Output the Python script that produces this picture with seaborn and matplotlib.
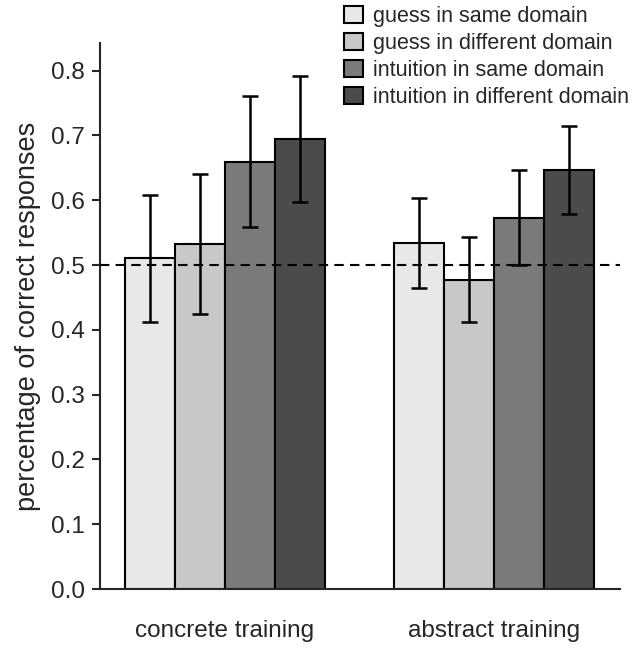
import matplotlib
matplotlib.use("Agg")
import matplotlib.pyplot as plt
import seaborn as sns
import pandas as pd
import numpy as np
from matplotlib.patches import Patch

trainings = ["concrete training", "abstract training"]
conditions = ["guess in same domain", "guess in different domain",
              "intuition in same domain", "intuition in different domain"]
concrete_vals = [0.511, 0.533, 0.659, 0.694]
abstract_vals = [0.534, 0.477, 0.573, 0.646]
concrete_lo = [0.412, 0.424, 0.558, 0.598]
concrete_hi = [0.608, 0.641, 0.761, 0.792]
abstract_lo = [0.464, 0.412, 0.4995, 0.578]
abstract_hi = [0.604, 0.543, 0.647, 0.714]
colors = ["#e8e8e8", "#c8c8c8", "#7a7a7a", "#4b4b4b"]
chance = 0.5

rows = []
for t, vals, lo, hi in [(trainings[0], concrete_vals, concrete_lo, concrete_hi),
                        (trainings[1], abstract_vals, abstract_lo, abstract_hi)]:
    for c, v, l, h in zip(conditions, vals, lo, hi):
        rows.append(dict(training=t, condition=c, value=v, lo=l, hi=h))
df = pd.DataFrame(rows)

sns.set_style("ticks")
plt.rcParams['font.family'] = ['Liberation Sans', 'DejaVu Sans']

fig = plt.figure(figsize=(6.36, 6.48), dpi=100)
ax = fig.add_axes([0.157, 0.091, 0.818, 0.843])

sns.barplot(data=df, x="training", y="value", hue="condition",
            order=trainings, hue_order=conditions, palette=colors,
            width=0.742, gap=0, edgecolor="black", linewidth=1.5,
            errorbar=None, ax=ax, legend=False, saturation=1)

patches = list(ax.patches)
idx = 0
for c in conditions:
    for t in trainings:
        p = patches[idx]
        idx += 1
        r = df[(df.training == t) & (df.condition == c)].iloc[0]
        xc = p.get_x() + p.get_width() / 2
        ax.errorbar([xc], [r.value], yerr=[[r.value - r.lo], [r.hi - r.value]],
                    fmt="none", ecolor="black", elinewidth=1.8, capsize=6,
                    capthick=1.8, zorder=5)

ax.axhline(chance, color="black", linestyle=(0, (4.5, 3)), linewidth=1.5, zorder=6)

ax.set_ylim(0, 0.843)
ax.set_xlim(-0.464, 1.466)
ticks = np.arange(0, 0.81, 0.1)
ax.set_yticks(ticks)
ax.set_yticklabels([f"{v:.1f}" for v in ticks])
ax.tick_params(axis="y", labelsize=17.5, length=6, width=1.5, direction="out", pad=5)
ax.tick_params(axis="x", labelsize=17.5, length=0, pad=22)
ax.set_xlabel("")
ax.set_ylabel("percentage of correct responses", fontsize=19.5, labelpad=7)
for s in ["top", "right"]:
    ax.spines[s].set_visible(False)
for s in ["left", "bottom"]:
    ax.spines[s].set_linewidth(1.5)

handles = [Patch(facecolor=col, edgecolor="black", linewidth=1.5) for col in colors]
fig.legend(handles, conditions, loc="upper right", bbox_to_anchor=(1.005, 1.006),
           frameon=False, fontsize=15.5, handlelength=0.85, handleheight=0.85,
           handletextpad=0.5, labelspacing=0.28, borderaxespad=0.05)

fig.savefig("out.png", dpi=100)
